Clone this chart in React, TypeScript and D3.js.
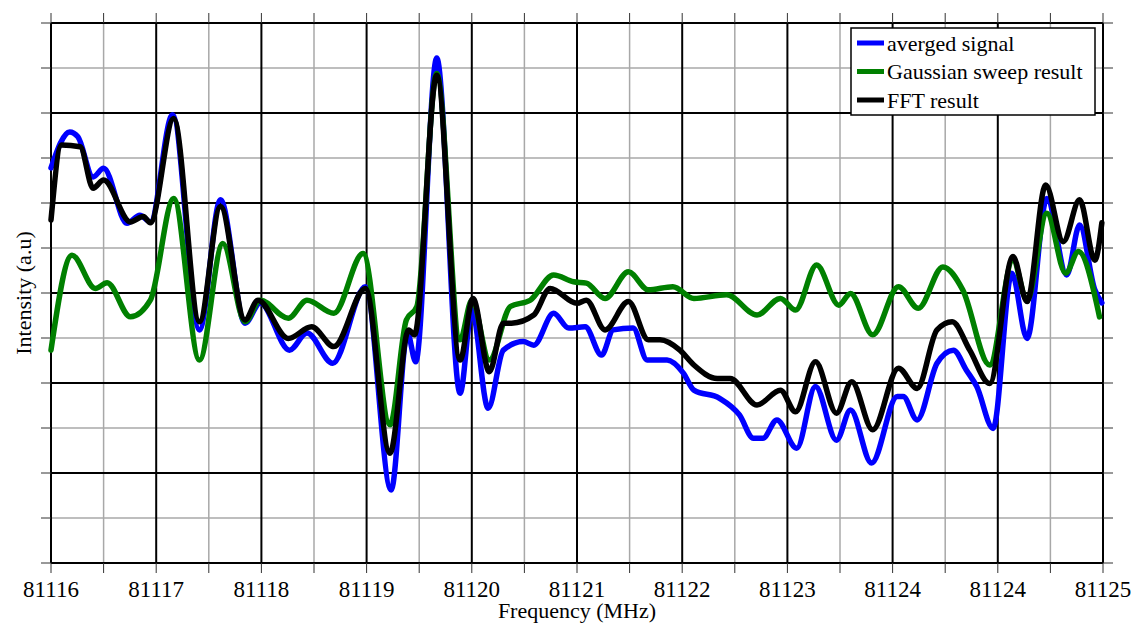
import { useEffect, useRef } from 'react'
import * as d3 from 'd3'

// x ticks are spaced 0.9 MHz apart, labels rounded as in the original figure
const tickLabels = ['81116', '81117', '81118', '81119', '81120', '81121', '81122', '81123', '81124', '81124', '81125']

const avgFreq = [81116.0, 81116.16, 81116.23, 81116.36, 81116.45, 81116.65, 81116.76, 81116.85, 81117.04, 81117.27, 81117.45, 81117.66, 81117.79, 81118.04, 81118.19, 81118.41, 81118.69, 81118.91, 81119.05, 81119.12, 81119.3, 81119.5, 81119.6, 81119.74, 81119.87, 81120.04, 81120.13, 81120.3, 81120.43, 81120.57, 81120.71, 81120.81, 81120.98, 81121.1, 81121.27, 81121.41, 81121.5, 81121.72, 81121.89, 81122.01, 81122.09, 81122.21, 81122.38, 81122.54, 81122.72, 81122.84, 81123.02, 81123.24, 81123.29, 81123.41, 81123.58, 81123.72, 81123.83, 81123.92, 81124.06, 81124.22, 81124.35, 81124.52, 81124.69, 81124.8, 81124.93, 81124.99]
const avgValues = [8.78, 9.58, 9.47, 8.58, 8.77, 7.55, 7.73, 7.58, 9.96, 5.18, 8.07, 5.33, 5.78, 4.73, 5.11, 4.44, 6.14, 1.62, 5.11, 4.47, 11.22, 3.77, 5.62, 3.44, 4.73, 4.92, 4.84, 5.55, 5.22, 5.25, 4.62, 5.18, 5.22, 4.51, 4.51, 4.22, 3.84, 3.66, 3.29, 2.77, 2.77, 3.18, 2.55, 3.92, 2.73, 3.4, 2.22, 3.7, 3.7, 3.18, 4.44, 4.73, 4.29, 3.92, 2.99, 6.44, 4.99, 8.1, 6.4, 7.51, 6.07, 5.78]

const gaussFreq = [81116.0, 81116.18, 81116.38, 81116.48, 81116.68, 81116.85, 81117.05, 81117.27, 81117.47, 81117.66, 81117.79, 81118.03, 81118.19, 81118.42, 81118.67, 81118.9, 81119.04, 81119.13, 81119.3, 81119.5, 81119.6, 81119.75, 81119.93, 81120.1, 81120.3, 81120.47, 81120.58, 81120.74, 81120.94, 81121.11, 81121.32, 81121.5, 81121.78, 81122.04, 81122.24, 81122.37, 81122.55, 81122.74, 81122.84, 81123.03, 81123.25, 81123.42, 81123.63, 81123.8, 81124.03, 81124.23, 81124.35, 81124.52, 81124.68, 81124.79, 81124.97]
const gaussValues = [4.73, 6.84, 6.1, 6.23, 5.47, 5.84, 8.1, 4.51, 7.1, 5.36, 5.84, 5.44, 5.84, 5.55, 6.88, 3.07, 5.4, 5.7, 10.88, 4.96, 5.84, 4.51, 5.7, 5.84, 6.4, 6.25, 6.22, 5.88, 6.47, 6.07, 6.14, 5.88, 5.96, 5.51, 5.88, 5.62, 6.62, 5.73, 5.99, 5.07, 6.14, 5.66, 6.58, 6.07, 4.4, 6.73, 5.84, 7.77, 6.44, 6.92, 5.47]

const fftFreq = [81116.0, 81116.09, 81116.25, 81116.36, 81116.45, 81116.68, 81116.79, 81116.85, 81117.05, 81117.27, 81117.45, 81117.66, 81117.77, 81118.03, 81118.23, 81118.42, 81118.69, 81118.9, 81119.06, 81119.11, 81119.3, 81119.5, 81119.61, 81119.75, 81119.87, 81119.94, 81120.13, 81120.27, 81120.5, 81120.58, 81120.74, 81120.94, 81121.11, 81121.21, 81121.38, 81121.5, 81121.7, 81121.81, 81122.04, 81122.24, 81122.37, 81122.54, 81122.72, 81122.85, 81123.03, 81123.25, 81123.41, 81123.58, 81123.71, 81123.86, 81124.03, 81124.23, 81124.35, 81124.51, 81124.66, 81124.8, 81124.93, 81124.99]
const fftValues = [7.62, 9.29, 9.25, 8.33, 8.51, 7.58, 7.7, 7.56, 9.88, 5.36, 7.92, 5.4, 5.84, 4.99, 5.25, 4.81, 6.1, 2.44, 5.18, 5.07, 10.84, 4.51, 5.88, 4.25, 5.33, 5.33, 5.51, 6.1, 5.77, 5.84, 5.18, 5.81, 4.96, 4.96, 4.73, 4.4, 4.1, 4.1, 3.51, 3.84, 3.36, 4.47, 3.33, 4.03, 2.96, 4.33, 3.88, 5.18, 5.36, 4.73, 3.99, 6.81, 5.81, 8.4, 7.14, 8.07, 6.73, 7.56]

const seriesNames = ['averged signal', 'Gaussian sweep result', 'FFT result']
const seriesColors = ['#0000ff', '#008000', '#000000']

const FONT = "'Liberation Serif', 'DejaVu Serif', serif"

export default function App() {
  const svgRef = useRef<SVGSVGElement>(null)

  useEffect(() => {
    if (!svgRef.current) return
    const svg = d3.select(svgRef.current)
    svg.selectAll('*').remove()

    const W = 1134
    const H = 624
    const margin = { top: 23, right: 31, bottom: 61, left: 51 }
    const width = W - margin.left - margin.right
    const height = H - margin.top - margin.bottom

    svg.append('rect').attr('width', W).attr('height', H).attr('fill', '#fff')

    const g = svg.append('g').attr('transform', `translate(${margin.left},${margin.top})`)

    const x = d3.scaleLinear().domain([81116, 81125]).range([0, width])
    const y = d3.scaleLinear().domain([0, 12]).range([height, 0])

    const xMajor = tickLabels.map((_, i) => 81116 + i * 0.9)
    const xMinor = xMajor.slice(0, -1).map(v => v + 0.45)
    const yMajor = d3.range(0, 13, 2)
    const yMinor = d3.range(1, 12, 2)

    // minor grid
    g.selectAll('.xminor').data(xMinor).enter().append('line')
      .attr('x1', d => x(d)).attr('x2', d => x(d)).attr('y1', 0).attr('y2', height)
      .attr('stroke', '#a8a8a8').attr('stroke-width', 1.5)
    g.selectAll('.yminor').data(yMinor).enter().append('line')
      .attr('x1', 0).attr('x2', width).attr('y1', d => y(d)).attr('y2', d => y(d))
      .attr('stroke', '#a8a8a8').attr('stroke-width', 1.5)

    // major grid
    g.selectAll('.xmajor').data(xMajor).enter().append('line')
      .attr('x1', d => x(d)).attr('x2', d => x(d)).attr('y1', 0).attr('y2', height)
      .attr('stroke', '#000').attr('stroke-width', 2)
    g.selectAll('.ymajor').data(yMajor).enter().append('line')
      .attr('x1', 0).attr('x2', width).attr('y1', d => y(d)).attr('y2', d => y(d))
      .attr('stroke', '#000').attr('stroke-width', 2)

    // outward tick marks on all four sides
    const allX = xMajor.concat(xMinor)
    const allY = yMajor.concat(yMinor)
    const tickLen = 10
    g.selectAll('.xtickb').data(allX).enter().append('line')
      .attr('x1', d => x(d)).attr('x2', d => x(d)).attr('y1', height).attr('y2', height + tickLen)
      .attr('stroke', '#333').attr('stroke-width', 1)
    g.selectAll('.xtickt').data(allX).enter().append('line')
      .attr('x1', d => x(d)).attr('x2', d => x(d)).attr('y1', 0).attr('y2', -tickLen)
      .attr('stroke', '#333').attr('stroke-width', 1)
    g.selectAll('.ytickl').data(allY).enter().append('line')
      .attr('x1', 0).attr('x2', -tickLen).attr('y1', d => y(d)).attr('y2', d => y(d))
      .attr('stroke', '#333').attr('stroke-width', 1)
    g.selectAll('.ytickr').data(allY).enter().append('line')
      .attr('x1', width).attr('x2', width + tickLen).attr('y1', d => y(d)).attr('y2', d => y(d))
      .attr('stroke', '#333').attr('stroke-width', 1)

    // tick labels
    g.selectAll('.xlabel').data(xMajor).enter().append('text')
      .attr('x', d => x(d)).attr('y', height + 34)
      .attr('text-anchor', 'middle')
      .attr('font-family', FONT).attr('font-size', 23).attr('fill', '#000')
      .text((_, i) => tickLabels[i])

    // series
    const series = [
      { f: avgFreq, v: avgValues },
      { f: gaussFreq, v: gaussValues },
      { f: fftFreq, v: fftValues }
    ]
    const line = d3.line<[number, number]>()
      .x(d => x(d[0]))
      .y(d => y(d[1]))
      .curve(d3.curveMonotoneX)

    series.forEach((s, i) => {
      const pts = s.f.map((f, k) => [f, s.v[k]] as [number, number])
      g.append('path')
        .datum(pts)
        .attr('fill', 'none')
        .attr('stroke', seriesColors[i])
        .attr('stroke-width', 5.5)
        .attr('stroke-linejoin', 'round')
        .attr('stroke-linecap', 'round')
        .attr('d', line)
    })

    // axis titles
    svg.append('text')
      .attr('x', margin.left + width / 2).attr('y', 618)
      .attr('text-anchor', 'middle')
      .attr('font-family', FONT).attr('font-size', 22)
      .text('Frequency (MHz)')
    svg.append('text')
      .attr('transform', `translate(31,${margin.top + height / 2}) rotate(-90)`)
      .attr('text-anchor', 'middle')
      .attr('font-family', FONT).attr('font-size', 22)
      .text('Intensity (a.u)')

    // legend
    const lg = svg.append('g').attr('transform', 'translate(851,28)')
    lg.append('rect').attr('width', 244).attr('height', 87)
      .attr('fill', '#fff').attr('stroke', '#000').attr('stroke-width', 1.5)
    seriesNames.forEach((name, i) => {
      const cy = 15 + i * 28.5
      lg.append('line').attr('x1', 6).attr('x2', 33).attr('y1', cy).attr('y2', cy)
        .attr('stroke', seriesColors[i]).attr('stroke-width', 5)
      lg.append('text').attr('x', 36).attr('y', cy + 7.5)
        .attr('font-family', FONT).attr('font-size', 22)
        .text(name)
    })
  }, [])

  return (
    <svg
      ref={svgRef}
      width={1134}
      height={624}
      style={{ position: 'absolute', left: 0, top: 0, display: 'block' }}
    />
  )
}
